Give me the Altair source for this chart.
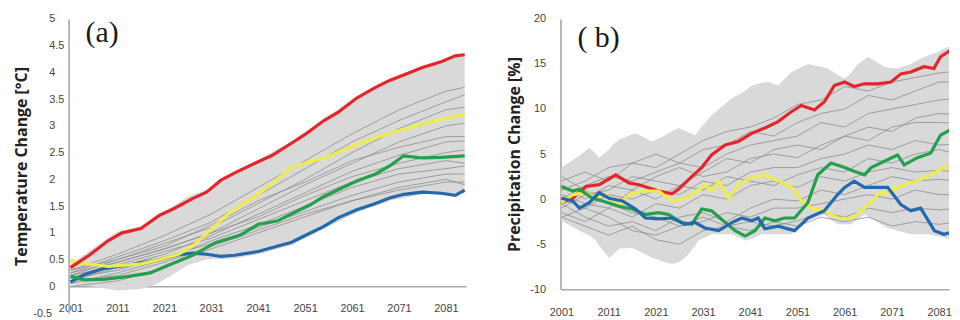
import altair as alt
import pandas as pd

# ---------------- Panel (a): temperature change ----------------
A_TICK_YEARS = [2001, 2011, 2021, 2031, 2041, 2051, 2061, 2071, 2081]
A_Y_TICKS = [-0.5, 0, 0.5, 1, 1.5, 2, 2.5, 3, 3.5, 4, 4.5, 5]

A_RED_YEARS = [2001, 2005, 2009, 2012, 2016, 2020, 2023, 2027, 2030, 2033, 2036, 2041, 2044,
               2048, 2051, 2055, 2058, 2062, 2066, 2069, 2072, 2076, 2080, 2083, 2085]
A_RED = [0.35, 0.58, 0.85, 1.00, 1.08, 1.33, 1.45, 1.64, 1.76, 1.98, 2.12, 2.33, 2.45,
         2.67, 2.84, 3.10, 3.25, 3.52, 3.72, 3.85, 3.95, 4.09, 4.20, 4.31, 4.33]

A_YEL_YEARS = [2001, 2003, 2009, 2016, 2020, 2024, 2027, 2032, 2035, 2038, 2041, 2044,
               2048, 2051, 2055, 2058, 2062, 2066, 2069, 2073, 2076, 2080, 2085]
A_YEL = [0.48, 0.44, 0.37, 0.42, 0.50, 0.60, 0.75, 1.15, 1.38, 1.55, 1.72, 1.92,
         2.22, 2.30, 2.40, 2.50, 2.65, 2.78, 2.86, 2.96, 3.04, 3.12, 3.22]

A_GRN_YEARS = [2001, 2004, 2008, 2013, 2018, 2022, 2027, 2032, 2037, 2041, 2045, 2048,
               2052, 2055, 2062, 2066, 2069, 2072, 2076, 2080, 2085]
A_GRN = [0.19, 0.12, 0.13, 0.18, 0.25, 0.40, 0.58, 0.82, 0.95, 1.16, 1.22, 1.35,
         1.52, 1.68, 1.97, 2.10, 2.25, 2.44, 2.40, 2.41, 2.44]

A_BLU_YEARS = [2001, 2004, 2008, 2012, 2016, 2020, 2024, 2027, 2030, 2033, 2036, 2041, 2045,
               2048, 2051, 2055, 2058, 2062, 2066, 2069, 2072, 2076, 2080, 2083, 2085]
A_BLU = [0.08, 0.22, 0.33, 0.38, 0.44, 0.50, 0.59, 0.62, 0.60, 0.56, 0.58, 0.65, 0.75,
         0.82, 0.95, 1.12, 1.28, 1.43, 1.55, 1.65, 1.72, 1.76, 1.74, 1.70, 1.80]

A_BAND_YEARS = [2001, 2006, 2011, 2016, 2019, 2022, 2026, 2030, 2036, 2041, 2048, 2055,
                2062, 2069, 2076, 2085]
A_BAND_LOW = [0.04, -0.01, -0.08, -0.05, 0.03, 0.18, 0.40, 0.50, 0.52, 0.60, 0.77, 1.07,
              1.38, 1.60, 1.72, 1.75]
A_BAND_HIGH = [0.42, 0.72, 1.02, 1.12, 1.30, 1.45, 1.68, 1.80, 2.15, 2.36, 2.70, 3.13,
               3.55, 3.88, 4.12, 4.36]

A_GRAY_YEARS = [2001, 2011, 2021, 2031, 2041, 2051, 2061, 2071, 2081, 2085]
A_GRAY = [
    [0.30, 0.60, 0.95, 1.35, 1.85, 2.35, 2.85, 3.30, 3.65, 3.72],
    [0.25, 0.55, 0.85, 1.20, 1.70, 2.20, 2.70, 3.10, 3.45, 3.58],
    [0.20, 0.50, 0.80, 1.10, 1.55, 2.00, 2.50, 2.95, 3.30, 3.35],
    [0.15, 0.45, 0.70, 1.00, 1.45, 1.90, 2.30, 2.70, 3.00, 3.05],
    [0.30, 0.50, 0.75, 1.15, 1.60, 1.95, 2.35, 2.60, 2.80, 2.80],
    [0.10, 0.35, 0.60, 0.95, 1.35, 1.75, 2.15, 2.45, 2.70, 2.72],
    [0.20, 0.40, 0.65, 0.90, 1.25, 1.60, 1.95, 2.20, 2.35, 2.30],
    [0.05, 0.25, 0.50, 0.85, 1.15, 1.50, 1.85, 2.10, 2.20, 2.25],
    [0.15, 0.30, 0.55, 0.80, 1.10, 1.40, 1.70, 1.95, 2.10, 2.10],
    [0.10, 0.20, 0.45, 0.75, 1.05, 1.35, 1.60, 1.80, 1.95, 1.95],
    [0.25, 0.45, 0.70, 1.00, 1.30, 1.70, 2.05, 2.30, 2.50, 2.55],
    [0.00, 0.10, 0.35, 0.70, 1.00, 1.30, 1.60, 1.85, 2.00, 1.90],
]

# ---------------- Panel (b): precipitation change ----------------
B_TICK_YEARS = [2001, 2011, 2021, 2031, 2041, 2051, 2061, 2071, 2081]
B_Y_TICKS = [-10, -5, 0, 5, 10, 15, 20]

B_RED_YEARS = [2001, 2003.4, 2006.2, 2009, 2012.5, 2015.3, 2017.4, 2021.6, 2024.4, 2025.8,
               2028.6, 2030.7, 2032.8, 2035.7, 2038.5, 2041.3, 2044.1, 2046.9, 2049.7,
               2051.8, 2054.6, 2056.7, 2058.8, 2061, 2063, 2065.2, 2068, 2070.8, 2072.9,
               2075, 2077.8, 2079.9, 2081.3, 2083.4, 2084.8]
B_RED = [-0.4, 0.1, 1.4, 1.6, 2.7, 1.8, 1.6, 0.9, 0.6, 1.1,
         2.5, 3.5, 4.9, 6.0, 6.4, 7.3, 7.9, 8.6, 9.7,
         10.4, 9.9, 10.8, 12.6, 13.0, 12.5, 12.8, 12.8, 13.0, 13.9,
         14.1, 14.7, 14.5, 15.8, 16.5, 17.1]

B_GRN_YEARS = [2001, 2003.4, 2004.8, 2007.6, 2009.7, 2013.2, 2016, 2018.8, 2021.6, 2023.7,
               2026.5, 2028.6, 2030.7, 2032.8, 2035.7, 2037.8, 2039.9, 2042, 2044.1, 2046.2,
               2048.3, 2050.4, 2053.2, 2055.3, 2058.1, 2061, 2063, 2065.2, 2066.6, 2069.4,
               2072.2, 2073.6, 2076.4, 2079.2, 2081.3, 2083.4, 2084.8]
B_GRN = [1.4, 0.9, 1.1, 0.1, -0.2, -0.8, -1.1, -1.7, -1.5, -1.7,
         -2.6, -2.8, -1.1, -1.3, -2.6, -3.5, -4.1, -3.5, -2.1, -2.4,
         -2.1, -2.1, -0.4, 2.7, 4.0, 3.5, 3.1, 2.7, 3.5, 4.2,
         4.9, 3.8, 4.6, 5.1, 7.1, 7.7, 7.5]

B_BLU_YEARS = [2001, 2003.4, 2004.8, 2006.9, 2009, 2011.1, 2013.9, 2016.7, 2018.8, 2021.6,
               2024.4, 2027.2, 2029.3, 2031.4, 2034.3, 2037.1, 2039.2, 2041.3, 2042.7, 2044.1,
               2046.9, 2050.4, 2053.2, 2056.7, 2059.5, 2061, 2063, 2065.2, 2068, 2070.1,
               2072.9, 2075, 2077.1, 2080, 2082, 2084.8]
B_BLU = [0.1, -0.2, -1.0, -0.4, 0.7, 0.1, -0.2, -1.1, -2.1, -2.2,
         -2.1, -2.8, -2.6, -3.2, -3.5, -2.6, -2.1, -2.4, -2.1, -3.3,
         -3.0, -3.5, -2.1, -1.3, 0.5, 1.3, 2.0, 1.3, 1.3, 1.3,
         -0.6, -1.3, -1.0, -3.5, -3.9, -3.5]

B_YEL_YEARS = [2001, 2003.4, 2006.2, 2008.3, 2010.4, 2013.2, 2015.3, 2018.1, 2021.6, 2024.4,
               2027.2, 2029.3, 2031.4, 2032.8, 2034.3, 2036.4, 2038.5, 2041.3, 2044.1, 2046.9,
               2049.7, 2051.8, 2053.9, 2056.7, 2059.5, 2062.3, 2065.2, 2068, 2070.8, 2073.6,
               2076.4, 2079.2, 2082, 2084.8]
B_YEL = [-0.4, 0.5, 0.7, 0.1, 0.5, -0.6, 0.5, 0.9, 0.9, -0.2,
         0.1, 0.7, 1.6, 0.9, 2.0, 0.1, 1.6, 2.4, 2.7, 2.0,
         1.4, -0.2, -1.0, -1.3, -2.1, -2.2, -1.0, 0.5, 0.9, 1.6,
         2.0, 2.7, 3.5, 3.8]

B_BAND_YEARS = [2001, 2004.8, 2006.9, 2008.3, 2009, 2011.1, 2011.8, 2013.2, 2016, 2016.7,
                2020.2, 2023, 2024.4, 2025.8, 2027.2, 2029.3, 2030, 2032.8, 2037.1, 2039.9,
                2041.3, 2043.4, 2044.8, 2046.9, 2049.7, 2053.2, 2056.7, 2057.4, 2059.5,
                2061, 2062.3, 2063.8, 2065.2, 2065.9, 2069.4, 2070.1, 2072.2, 2072.9,
                2075, 2077.1, 2078.5, 2080.6, 2084.8]
B_BAND_LOW = [-2.4, -3.5, -4.0, -4.6, -5.2, -6.5, -6.2, -5.5, -5.4, -5.6,
              -6.5, -7.0, -7.2, -7.0, -6.5, -5.2, -4.6, -3.9, -3.9, -4.6,
              -4.4, -3.9, -3.9, -3.9, -3.9, -2.4, -1.7, -2.0, -2.8,
              -2.8, -2.8, -2.2, -1.7, -1.9, -3.0, -3.2, -3.5, -3.6,
              -3.9, -3.9, -3.9, -4.1, -4.6]
B_BAND_HIGH = [3.5, 4.8, 5.7, 5.0, 4.6, 5.5, 6.0, 6.6, 7.2, 7.3,
               6.4, 7.1, 7.5, 7.9, 7.6, 7.1, 7.6, 9.3, 11.2, 12.0,
               12.6, 12.9, 13.0, 12.6, 14.1, 15.0, 14.6, 14.5, 13.8,
               13.4, 14.0, 15.0, 15.5, 15.8, 14.7, 14.6, 14.5, 14.6,
               15.0, 15.6, 15.9, 16.3, 17.4]

B_GRAY_YEARS = [2001, 2006, 2011, 2016, 2021, 2026, 2031, 2036, 2041, 2046, 2051, 2056,
                2061, 2066, 2071, 2076, 2081, 2085]
B_GRAY = [
    [1.0, 2.0, 3.5, 4.0, 3.5, 5.0, 6.5, 7.5, 8.0, 9.0, 10.5, 11.0, 12.5, 12.0, 13.0, 13.5, 14.0, 14.2],
    [2.0, 3.0, 2.0, 4.0, 5.0, 4.0, 5.5, 6.0, 7.5, 7.0, 8.5, 9.5, 10.0, 11.5, 11.0, 12.0, 13.0, 13.0],
    [0.0, 1.5, 2.5, 2.0, 3.0, 4.0, 3.5, 5.0, 6.0, 6.5, 7.0, 8.5, 8.0, 9.5, 10.0, 10.5, 11.0, 11.2],
    [-1.0, 0.5, 1.0, 2.5, 2.0, 1.5, 3.0, 4.5, 4.0, 5.5, 6.0, 5.5, 7.0, 8.0, 7.5, 9.0, 9.5, 9.4],
    [1.5, 0.0, 1.5, 1.0, 2.5, 3.5, 2.5, 3.0, 4.5, 5.0, 4.6, 6.0, 7.0, 6.5, 8.0, 8.5, 8.5, 8.4],
    [-2.0, -1.0, 0.5, 0.0, 1.0, 0.5, 2.0, 1.5, 3.0, 3.5, 3.5, 4.5, 5.0, 6.0, 5.5, 6.5, 6.0, 6.1],
    [0.5, -0.5, -1.0, 1.0, 0.0, 1.5, 1.0, 2.5, 2.0, 1.5, 2.7, 3.5, 3.0, 4.5, 4.0, 5.0, 5.5, 5.0],
    [-1.5, -2.5, -1.0, -2.0, -0.5, -1.0, 0.5, 0.0, 1.5, 2.0, 1.3, 2.5, 2.0, 3.0, 3.5, 3.0, 3.2, 3.0],
    [-0.5, -2.0, -3.0, -2.5, -3.5, -2.0, -1.5, -2.5, -1.0, 0.0, -0.2, 1.0, 0.5, 1.5, 2.5, 2.0, 2.2, 2.0],
    [2.5, 1.0, -0.5, -1.5, -2.0, -3.0, -2.5, -1.5, -2.0, -1.0, -1.0, -0.5, 0.0, 0.5, 0.0, 1.0, 0.5, 0.5],
    [-2.0, -3.0, -4.0, -3.0, -4.5, -5.0, -3.5, -3.0, -2.5, -3.0, -2.4, -1.5, -2.0, -1.0, -1.5, -1.0, -1.2, -1.0],
    [0.0, -1.0, -2.0, -3.5, -4.0, -3.0, -2.0, -3.0, -3.5, -2.5, -3.0, -2.0, -2.5, -2.0, -3.0, -2.5, -2.8, -2.5],
]

COLORS = {"blue": "#2468ad", "green": "#23a04c", "yellow": "#eeec4c", "red": "#e2262c"}
LABEL_FONT = "Liberation Sans"
TITLE_FONT = "Open Sans"


def gray_frame(years, rows):
    recs = []
    for i, vals in enumerate(rows):
        for yr, v in zip(years, vals):
            recs.append({"year": yr, "value": v, "run": i})
    return pd.DataFrame(recs)


def panel(band, grays, colored, x_dom, y_dom, y_ticks, x_ticks, width, height,
          y_title, x_offset, x_label_pad, y_label_opts, y_title_pad, tag, tag_xy):
    x_axis = alt.Axis(values=x_ticks, format="d", grid=False, ticks=False,
                      labelFont=LABEL_FONT, labelFontSize=11, labelColor="#444",
                      labelPadding=x_label_pad, domainColor="#a8a8a8", domainWidth=1.6,
                      offset=x_offset, title=None, labelFlush=False)
    y_axis = alt.Axis(values=y_ticks, grid=False, ticks=False,
                      labelExpr="datum.value + ''",
                      labelFont=LABEL_FONT, labelFontSize=11, labelColor="#444",
                      domainColor="#b0b0b0", domainWidth=1.8,
                      title=y_title, titleFont=TITLE_FONT, titleFontSize=16,
                      titleFontWeight="bold", titleColor="#222", titlePadding=y_title_pad,
                      labelFlush=False, **y_label_opts)
    X = alt.X("year:Q", scale=alt.Scale(domain=x_dom, nice=False, zero=False), axis=x_axis)
    Y = alt.Y("value:Q", scale=alt.Scale(domain=y_dom, nice=False, zero=False), axis=y_axis)

    band_df = pd.DataFrame({"year": band[0], "value": band[1], "high": band[2]})
    layers = [
        alt.Chart(band_df).mark_area(color="#d9d9d9", clip=True).encode(
            x=X, y=Y, y2="high:Q"),
        alt.Chart(gray_frame(*grays)).mark_line(
            color="#8d8d8d", strokeWidth=0.8, clip=True).encode(
            x=X, y=Y, detail="run:N"),
    ]
    for name, yrs, vals in colored:
        df = pd.DataFrame({"year": yrs, "value": vals})
        layers.append(alt.Chart(df).mark_line(
            color=COLORS[name], strokeWidth=3.2, clip=True).encode(x=X, y=Y))
    layers.append(alt.Chart(pd.DataFrame({"t": [tag]})).mark_text(
        font="Liberation Serif", fontSize=30, align="left", baseline="middle",
        color="#1a1a1a").encode(x=alt.value(tag_xy[0]), y=alt.value(tag_xy[1]), text="t:N"))
    return alt.layer(*layers).properties(width=width, height=height)


panel_a = panel(
    (A_BAND_YEARS, A_BAND_LOW, A_BAND_HIGH),
    (A_GRAY_YEARS, A_GRAY),
    [("blue", A_BLU_YEARS, A_BLU), ("green", A_GRN_YEARS, A_GRN),
     ("yellow", A_YEL_YEARS, A_YEL), ("red", A_RED_YEARS, A_RED)],
    [2000.6, 2085.3], [-0.5, 5], A_Y_TICKS, A_TICK_YEARS, 400, 296,
    "Temperature Change [°C]", -27, 16,
    {"labelAlign": "left",
     "labelPadding": {"condition": {"test": "datum.value < 0", "value": 36}, "value": 20}},
    3, "(a)", (17, 14))

panel_b = panel(
    (B_BAND_YEARS, B_BAND_LOW, B_BAND_HIGH),
    (B_GRAY_YEARS, B_GRAY),
    [("red", B_RED_YEARS, B_RED), ("yellow", B_YEL_YEARS, B_YEL),
     ("green", B_GRN_YEARS, B_GRN), ("blue", B_BLU_YEARS, B_BLU)],
    [2000.8, 2083.1], [-10, 20], B_Y_TICKS, B_TICK_YEARS, 391, 272,
    "Precipitation Change [%]", 0, 17,
    {"labelPadding": 15},
    7, "( b)", (17, 19))

chart = alt.hconcat(panel_a, panel_b, spacing=41).properties(
    padding={"left": 6, "top": 4, "right": 0, "bottom": 0},
    background="white",
).configure_view(stroke=None)

chart.save("out.html", embed_options={"renderer": "svg", "actions": False})
